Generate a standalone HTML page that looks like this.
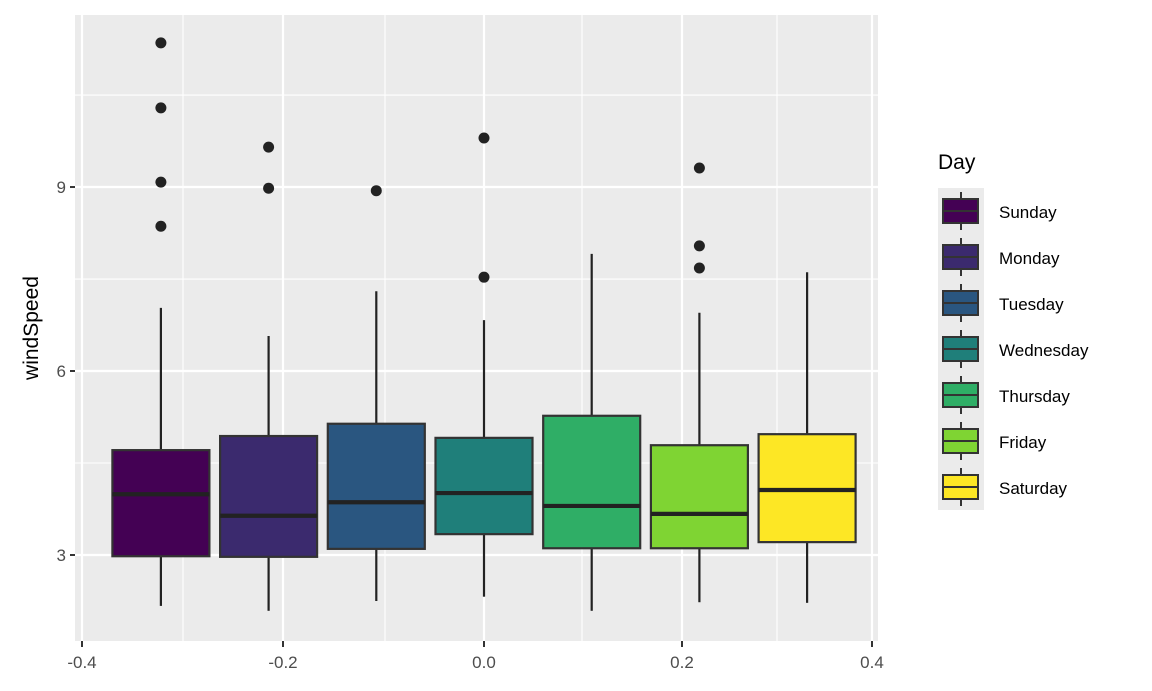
<!DOCTYPE html>
<html><head><meta charset="utf-8"><style>
body{margin:0;background:#fff;}
svg{display:block;font-family:"Liberation Sans",Arial,sans-serif;}
</style></head><body>
<svg id="chart" width="1152" height="691" viewBox="0 0 1152 691"></svg>
<script>
const days=["Sunday","Monday","Tuesday","Wednesday","Thursday","Friday","Saturday"];
const colors=["#440154","#3B2A6E","#2A5680","#1F7F7A","#2FAE66","#7FD433","#FDE725"];
const q1=[2.98,2.97,3.10,3.34,3.11,3.11,3.21];
const med=[3.99,3.64,3.86,4.01,3.80,3.67,4.06];
const q3=[4.71,4.94,5.14,4.91,5.27,4.79,4.97];
const whiskLo=[2.17,2.09,2.25,2.32,2.09,2.23,2.22];
const whiskHi=[7.03,6.57,7.30,6.83,7.91,6.95,7.61];
const outliers=[[11.35,10.29,9.08,8.36],[9.65,8.98],[8.94],[9.80,7.53],[],[9.31,8.04,7.68],[]];
const yTicks=[3,6,9];
const yMinor=[4.5,7.5,10.5];
const xTicks=[-0.4,-0.2,0.0,0.2,0.4];
const xTickLabels=["-0.4","-0.2","0.0","0.2","0.4"];
const xMinor=[-0.3,-0.1,0.1,0.3];

const NS="http://www.w3.org/2000/svg";
const svg=document.getElementById('chart');
const P={l:75,r:878,t:15,b:641};
function y(v){return 555-(v-3)*61.33;}
// x axis positions (measured, piecewise)
const xk=[-0.4,-0.3,-0.2,-0.1,0,0.1,0.2,0.3,0.4];
const xp=[82,183,283,385,484,582,682,777,872];
function x(v){for(let i=0;i<xk.length-1;i++){if(v<=xk[i+1]+1e-9){const t=(v-xk[i])/(xk[i+1]-xk[i]);return xp[i]+t*(xp[i+1]-xp[i]);}}return xp[xp.length-1];}
const band=107.7, bw=97;
function bx(i){return x(0)+(i-(days.length-1)/2)*band;}
function el(tag,a,parent){const e=document.createElementNS(NS,tag);for(const k in a)e.setAttribute(k,a[k]);(parent||svg).appendChild(e);return e;}

const bg=el('rect',{x:P.l,y:P.t,width:P.r-P.l,height:P.b-P.t,fill:'#EBEBEB'});


const grid=el('g',{});


yMinor.forEach(v=>el('line',{x1:P.l,x2:P.r,y1:y(v),y2:y(v),stroke:'#fff','stroke-width':1.1},grid));
xMinor.forEach(v=>el('line',{x1:x(v),x2:x(v),y1:P.t,y2:P.b,stroke:'#fff','stroke-width':1.1},grid));
yTicks.forEach(v=>el('line',{x1:P.l,x2:P.r,y1:y(v),y2:y(v),stroke:'#fff','stroke-width':2.2},grid));
xTicks.forEach(v=>el('line',{x1:x(v),x2:x(v),y1:P.t,y2:P.b,stroke:'#fff','stroke-width':2.2},grid));

days.forEach((d,i)=>{
  const g=el('g',{});
  
  
  const c=bx(i);
  el('line',{x1:c,x2:c,y1:y(whiskLo[i]),y2:y(q1[i]),stroke:'#222','stroke-width':2.2},g);
  el('line',{x1:c,x2:c,y1:y(q3[i]),y2:y(whiskHi[i]),stroke:'#222','stroke-width':2.2},g);
  el('rect',{x:c-bw/2,y:y(q3[i]),width:bw,height:y(q1[i])-y(q3[i]),fill:colors[i],stroke:'#333','stroke-width':2.2},g);
  el('line',{x1:c-bw/2,x2:c+bw/2,y1:y(med[i]),y2:y(med[i]),stroke:'#222','stroke-width':4.2},g);
  outliers[i].forEach(o=>{
    const p=el('circle',{cx:c,cy:y(o),r:5.5,fill:'#222'},g);
    
    
  });
});

const ax=el('g',{});


yTicks.forEach(v=>{
  el('line',{x1:P.l-5,x2:P.l,y1:y(v),y2:y(v),stroke:'#333','stroke-width':2},ax);
  const t=el('text',{x:P.l-9,y:y(v)+6,'text-anchor':'end','font-size':17,fill:'#4D4D4D'},ax);
  t.textContent=v;
  
  
});
xTicks.forEach((v,i)=>{
  el('line',{x1:x(v),x2:x(v),y1:P.b,y2:P.b+6,stroke:'#333','stroke-width':2},ax);
  const t=el('text',{x:x(v),y:P.b+27,'text-anchor':'middle','font-size':17,fill:'#4D4D4D'},ax);
  t.textContent=xTickLabels[i];
  
  
});
const yt=el('text',{x:0,y:0,transform:'translate(38,328) rotate(-90)','text-anchor':'middle','font-size':21,fill:'#000'});
yt.textContent='windSpeed';



const lg=el('g',{});


const lt=el('text',{x:938,y:169,'font-size':21,fill:'#000'},lg);
lt.textContent='Day';


el('rect',{x:938,y:188,width:46,height:322,fill:'#EBEBEB'},lg);
days.forEach((d,i)=>{
  const e=el('g',{},lg);
  
  
  const top=188+i*46, cx=961;
  el('line',{x1:cx,x2:cx,y1:top+4,y2:top+42,stroke:'#333','stroke-width':2},e);
  el('rect',{x:943,y:top+11,width:35,height:24,fill:colors[i],stroke:'#333','stroke-width':2},e);
  el('line',{x1:943,x2:978,y1:top+23,y2:top+23,stroke:'#333','stroke-width':2},e);
  const t=el('text',{x:999,y:top+30,'font-size':17,fill:'#000'},e);
  t.textContent=d;
});
</script>
</body></html>
